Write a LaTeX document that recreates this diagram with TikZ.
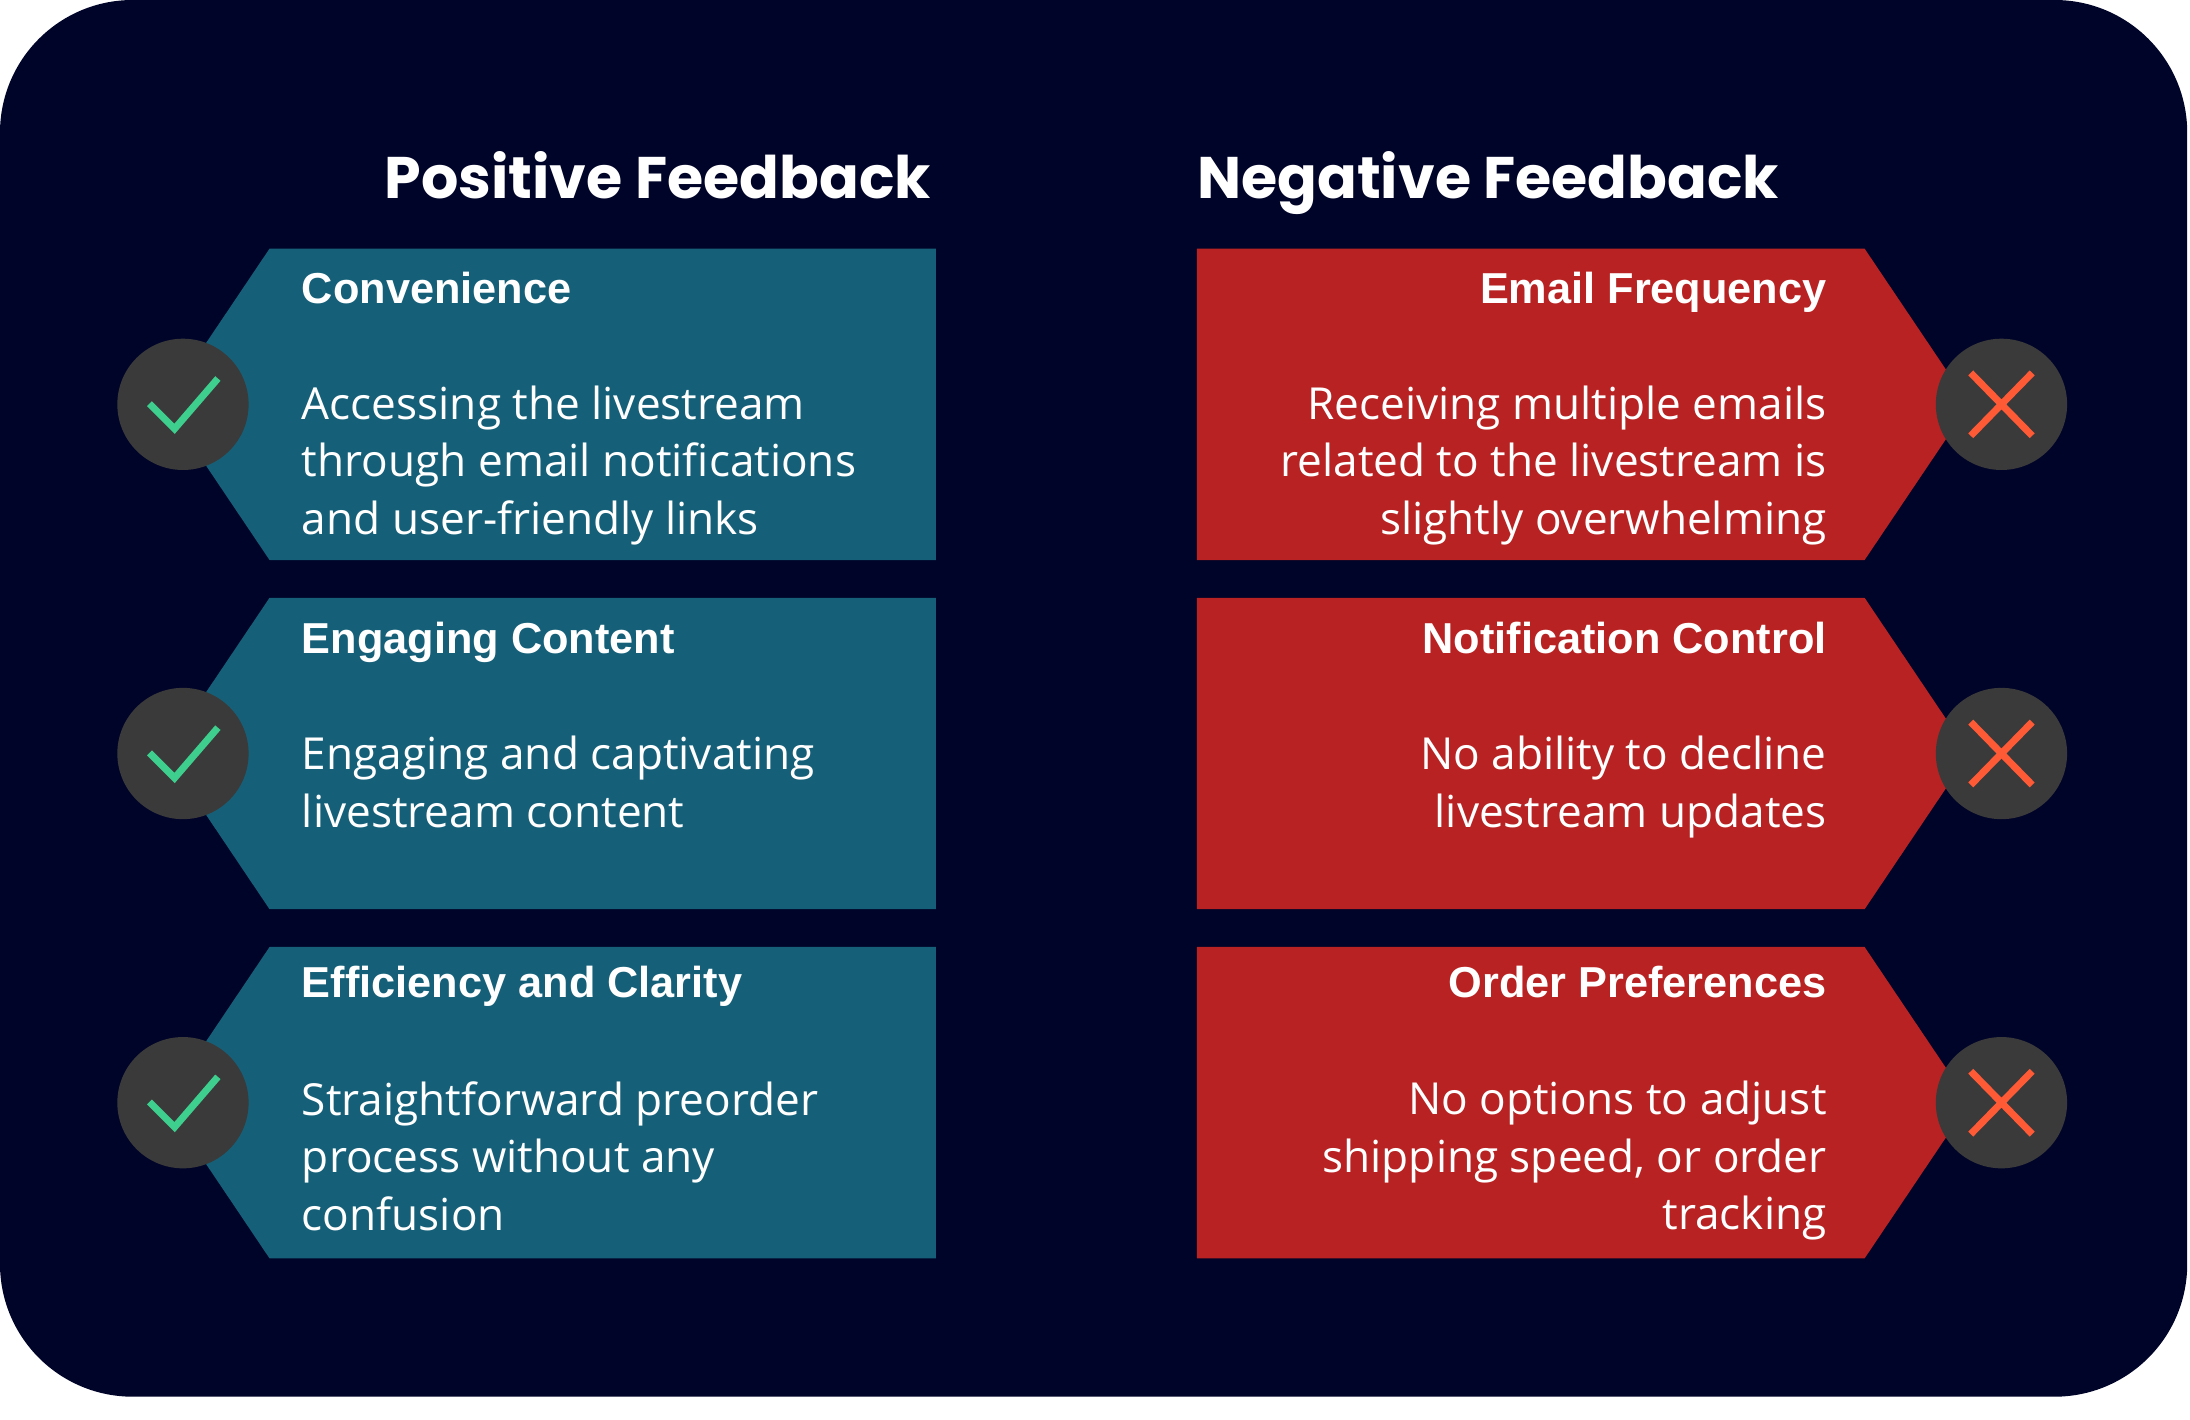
\documentclass[tikz,border=0pt]{standalone}
\usepackage{fontspec}
\setmainfont{Open Sans}
\newfontfamily\headf{Liberation Sans}
\newfontfamily\titf{Poppins}
\definecolor{bg}{HTML}{000428}
\definecolor{teal}{HTML}{156078}
\definecolor{redb}{HTML}{B82222}
\definecolor{circ}{HTML}{3A3A3A}
\definecolor{chk}{HTML}{3ECF8E}
\definecolor{crs}{HTML}{FF5A36}
\begin{document}
\begin{tikzpicture}[x=1pt,y=-1pt,
  titl/.style={text=white,font=\titf\fontsize{42}{50}\selectfont\bfseries,inner sep=0},
  head/.style={text=white,font=\headf\fontsize{31}{36}\selectfont\bfseries,inner sep=0},
  body/.style={text=white,font=\fontsize{31.6}{41.2}\selectfont,inner sep=0},
  dot/.style={circle,fill=circ,minimum size=94pt,inner sep=0}]
\useasboundingbox (0,0) rectangle (1568,1016);
\fill[white] (0,0) rectangle (1568,1016);
\fill[bg,rounded corners=95pt] (0,0) rectangle (1566,1000);
\node[titl,anchor=base] (tp) at (471,142) {Positive Feedback};
\node[titl,anchor=base west] (tn) at (857,142) {Negative Feedback};
\foreach \y/\i in {178/1,428/2,678/3}{
  \fill[teal] (193,\y) -- (670,\y) -- (670,\y+223) -- (193,\y+223) -- (118,\y+111.5) -- cycle;
  \fill[redb] (857,\y) -- (1335,\y) -- (1410,\y+111.5) -- (1335,\y+223) -- (857,\y+223) -- cycle;
  \node[dot] (c\i) at (131,\y+111.5) {};
  \node[dot] (x\i) at (1433,\y+111.5) {};
  \draw[chk,line width=5pt] (107,\y+111) -- (125,\y+129) -- (156,\y+93);
  \draw[crs,line width=5pt] (1411,\y+89) -- (1455,\y+134) (1455,\y+89) -- (1411,\y+134);
}
\node[head,anchor=base west] (h1) at (216,217) {Convenience};
\node[body,anchor=north west,align=left] (b1) at (216,276) {Accessing the livestream\\through email notifications\\and user-friendly links};
\node[head,anchor=base west] (h2) at (216,468) {Engaging Content};
\node[body,anchor=north west,align=left] (b2) at (216,527) {Engaging and captivating\\livestream content};
\node[head,anchor=base west] (h3) at (216,714) {Efficiency and Clarity};
\node[body,anchor=north west,align=left] (b3) at (216,774) {Straightforward preorder\\process without any\\confusion};
\node[head,anchor=base east] (r1) at (1308,217) {Email Frequency};
\node[body,anchor=north east,align=right] (s1) at (1308,276) {Receiving multiple emails\\related to the livestream is\\slightly overwhelming};
\node[head,anchor=base east] (r2) at (1308,468) {Notification Control};
\node[body,anchor=north east,align=right] (s2) at (1308,527) {No ability to decline\\livestream updates};
\node[head,anchor=base east] (r3) at (1308,714) {Order Preferences};
\node[body,anchor=north east,align=right] (s3) at (1308,774) {No options to adjust\\shipping speed, or order\\tracking};
\end{tikzpicture}
\end{document}
